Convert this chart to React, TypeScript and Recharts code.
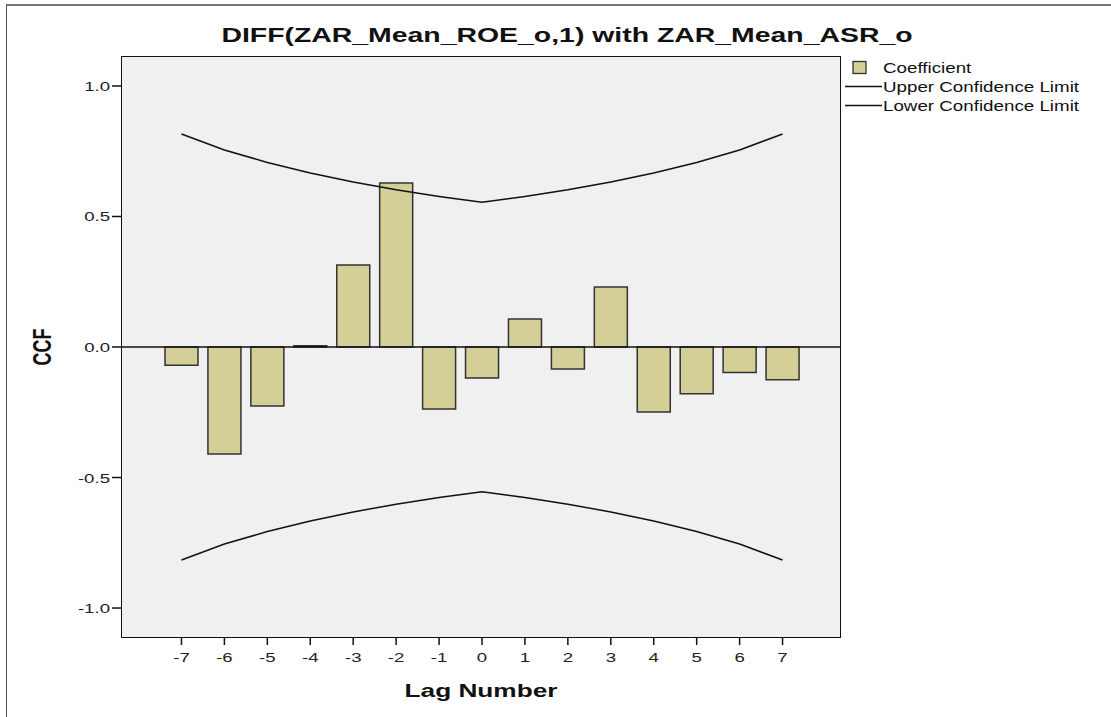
import { Bar, ComposedChart, Line, ReferenceLine, XAxis, YAxis, CartesianGrid } from "recharts";

const lags = [-7, -6, -5, -4, -3, -2, -1, 0, 1, 2, 3, 4, 5, 6, 7];
const coefficient = [
  -0.07, -0.41, -0.226, 0.005, 0.314, 0.628, -0.238, -0.119, 0.107, -0.084, 0.23, -0.249, -0.179, -0.098, -0.125,
];
const upperLimit = [0.816, 0.755, 0.707, 0.667, 0.632, 0.602, 0.577, 0.555, 0.577, 0.602, 0.632, 0.667, 0.707, 0.755, 0.816];
const lowerLimit = upperLimit.map((v) => -v);
const yTicks = [-1, -0.5, 0, 0.5, 1];
const legendItems = ["Coefficient", "Upper Confidence Limit", "Lower Confidence Limit"];

const data = lags.map((lag, i) => ({
  lag,
  coefficient: coefficient[i],
  upper: upperLimit[i],
  lower: lowerLimit[i],
}));

const FONT = "'Liberation Sans', Arial, sans-serif";
const BAR_FILL = "#d3cf96";
// SPSS export is stretched horizontally, so text gets widened too
const SX = 1.38;

const W = 1111;
const H = 717;
const PLOT = { left: 122, top: 57, right: 840, bottom: 637 };

function XTick({ x, y, payload }: any) {
  return (
    <g transform={`translate(${x},${y})`}>
      <text transform={`scale(${SX},1)`} dy={17} textAnchor="middle" fontFamily={FONT} fontSize={13.5} fill="#222">
        {payload.value}
      </text>
    </g>
  );
}

function YTick({ x, y, payload }: any) {
  return (
    <g transform={`translate(${x},${y})`}>
      <text transform={`scale(${SX},1)`} dy={5} textAnchor="end" fontFamily={FONT} fontSize={13.5} fill="#222">
        {Number(payload.value).toFixed(1)}
      </text>
    </g>
  );
}

function YLabel({ viewBox }: any) {
  const cy = viewBox.y + viewBox.height / 2;
  return (
    <text
      transform={`translate(51,${cy}) rotate(-90) scale(1,${SX})`}
      textAnchor="middle"
      fontFamily={FONT}
      fontWeight="bold"
      fontSize={18}
      fill="#111"
    >
      CCF
    </text>
  );
}

function XLabel({ viewBox }: any) {
  const cx = viewBox.x + viewBox.width / 2;
  return (
    <text
      transform={`translate(${cx},697) scale(${SX},1)`}
      textAnchor="middle"
      fontFamily={FONT}
      fontWeight="bold"
      fontSize={19}
      fill="#111"
    >
      Lag Number
    </text>
  );
}

function LegendBox() {
  return (
    <div style={{ position: "absolute", left: 845, top: 58, fontFamily: FONT, fontSize: 14, color: "#111" }}>
      {legendItems.map((name, i) => (
        <div key={name} style={{ display: "flex", alignItems: "center", height: 19 }}>
          <svg width={38} height={19} style={{ flex: "none" }}>
            {i === 0 ? (
              <rect x={8} y={3.5} width={13} height={12} fill={BAR_FILL} stroke="#333" strokeWidth={1.3} />
            ) : (
              <line x1={0} x2={37} y1={9.5} y2={9.5} stroke="#111" strokeWidth={1.3} />
            )}
          </svg>
          <span style={{ display: "inline-block", transform: "scaleX(1.34)", transformOrigin: "left center", whiteSpace: "nowrap" }}>
            {name}
          </span>
        </div>
      ))}
    </div>
  );
}

export default function App() {
  return (
    <div style={{ position: "absolute", left: 0, top: 0, width: W, height: H, background: "#fff", overflow: "hidden" }}>
      <div
        style={{
          position: "absolute",
          left: 6,
          top: 4,
          width: W,
          height: H,
          borderTop: "2px solid #777",
          borderLeft: "1.5px solid #555",
        }}
      />
      <ComposedChart
        width={W}
        height={H}
        data={data}
        margin={{ top: PLOT.top, right: W - PLOT.right, bottom: 0, left: 0 }}
        barSize={33}
      >
        <CartesianGrid fill="#f0f0f0" horizontal={false} vertical={false} />
        <XAxis
          dataKey="lag"
          height={H - PLOT.bottom}
          padding={{ left: 38, right: 36 }}
          tickSize={8}
          tickMargin={0}
          axisLine={false}
          tickLine={{ stroke: "#111", strokeWidth: 1.5 }}
          tick={<XTick />}
          label={<XLabel />}
        />
        <YAxis
          width={PLOT.left}
          domain={[-1.111, 1.111]}
          ticks={yTicks}
          allowDataOverflow
          tickSize={10}
          tickMargin={2}
          axisLine={false}
          tickLine={{ stroke: "#111", strokeWidth: 1.5 }}
          tick={<YTick />}
          label={<YLabel />}
        />
        <Bar dataKey="coefficient" fill={BAR_FILL} stroke="#333" strokeWidth={1.5} isAnimationActive={false} />
        <ReferenceLine y={0} stroke="#111" strokeWidth={1.5} />
        <Line type="linear" dataKey="upper" stroke="#111" strokeWidth={1.5} dot={false} isAnimationActive={false} />
        <Line type="linear" dataKey="lower" stroke="#111" strokeWidth={1.5} dot={false} isAnimationActive={false} />
      </ComposedChart>
      {/* plot frame */}
      <div
        style={{
          position: "absolute",
          left: PLOT.left - 1,
          top: PLOT.top - 1,
          width: PLOT.right - PLOT.left + 2,
          height: PLOT.bottom - PLOT.top + 2,
          border: "1.5px solid #111",
          boxSizing: "border-box",
          pointerEvents: "none",
        }}
      />
      <div
        style={{
          position: "absolute",
          left: 0,
          width: 1134,
          top: 24,
          textAlign: "center",
          fontFamily: FONT,
          fontWeight: "bold",
          fontSize: 20,
          color: "#111",
          transform: "scaleX(1.42)",
          whiteSpace: "nowrap",
        }}
      >
        DIFF(ZAR_Mean_ROE_o,1) with ZAR_Mean_ASR_o
      </div>
      <LegendBox />
    </div>
  );
}
